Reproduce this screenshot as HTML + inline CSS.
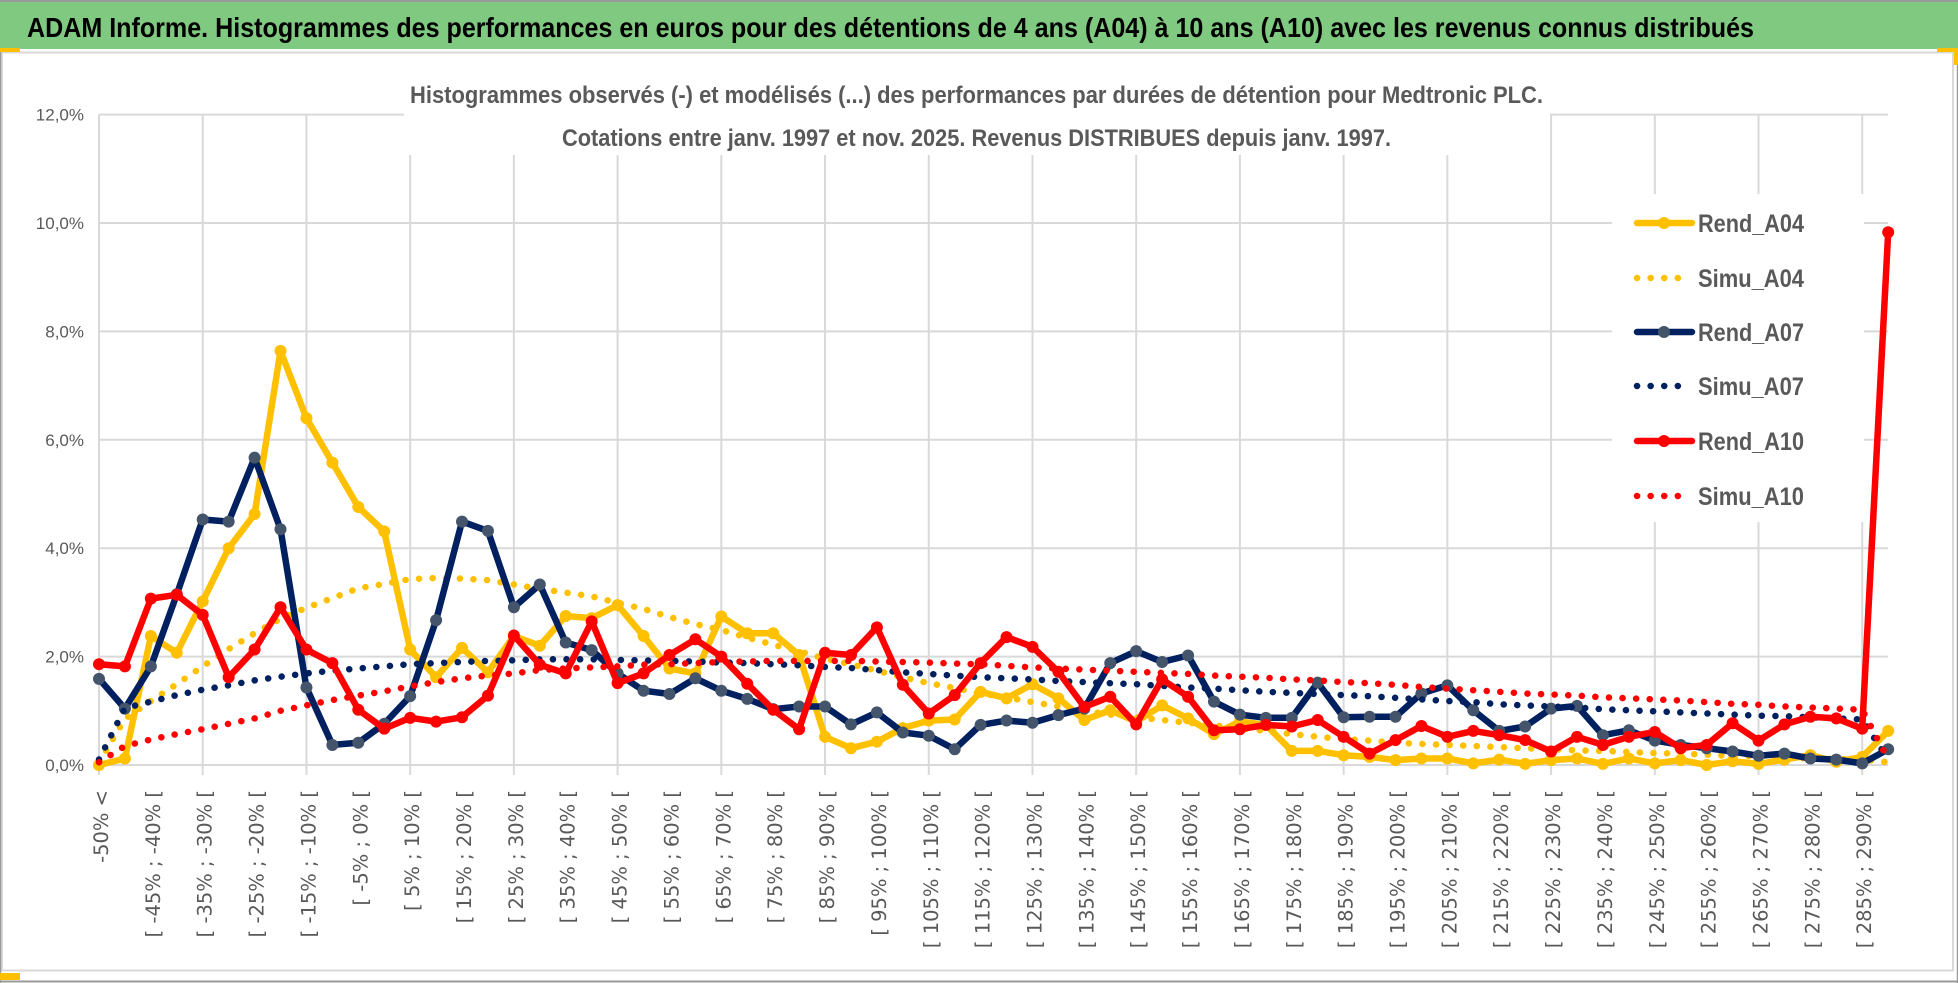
<!DOCTYPE html>
<html><head><meta charset="utf-8"><style>
html,body{margin:0;padding:0;background:#fff;}
svg{display:block;}
</style></head><body>
<svg id="chart" width="1958" height="983" viewBox="0 0 1958 983" xmlns="http://www.w3.org/2000/svg">
<rect x="0" y="0" width="1958" height="983" fill="#fff"/>
<rect x="0" y="0" width="1958" height="49" fill="#80c980"/>
<line x1="0" y1="1" x2="1958" y2="1" stroke="#9a9a9a" stroke-width="2"/>
<text x="27" y="37" font-family="Liberation Sans, sans-serif" font-weight="bold" font-size="28" fill="#000" textLength="1727" lengthAdjust="spacingAndGlyphs">ADAM Informe. Histogrammes des performances en euros pour des détentions de 4 ans (A04) à 10 ans (A10) avec les revenus connus distribués</text>
<rect x="2" y="52.5" width="1951" height="918" fill="none" stroke="#d9d9d9" stroke-width="2"/>
<line x1="0" y1="981.5" x2="1958" y2="981.5" stroke="#9a9a9a" stroke-width="2"/>
<line x1="0.5" y1="49" x2="0.5" y2="983" stroke="#9a9a9a" stroke-width="1.5"/>
<line x1="1957.5" y1="49" x2="1957.5" y2="983" stroke="#9a9a9a" stroke-width="1.5"/>
<rect x="0" y="48" width="20" height="4" fill="#ffc000"/>
<rect x="1937" y="48" width="21" height="4" fill="#ffc000"/>
<rect x="1954" y="48" width="4" height="17" fill="#ffc000"/>
<rect x="0" y="973" width="20" height="7" fill="#ffc000"/>
<g id="grid"></g>
<g id="series"></g>
<g id="axes"></g>
<rect x="404" y="70" width="1146" height="85" fill="#fff"/>
<text x="410" y="103" font-family="Liberation Sans, sans-serif" font-weight="bold" font-size="24" fill="#595959" textLength="1133" lengthAdjust="spacingAndGlyphs">Histogrammes observés (-) et modélisés (...) des performances par durées de détention pour Medtronic PLC.</text>
<text x="562" y="146" font-family="Liberation Sans, sans-serif" font-weight="bold" font-size="24" fill="#595959" textLength="829" lengthAdjust="spacingAndGlyphs">Cotations entre janv. 1997 et nov. 2025. Revenus DISTRIBUES depuis janv. 1997.</text>
<g id="legend"></g>
</svg>
<script>
const categories = [];
categories.push('-50% <');
for (let a = -50; a < 295; a += 5) { categories.push('[ ' + a + '% ; ' + (a + 5) + '% ['); }
const yTicks = [0, 2, 4, 6, 8, 10, 12];
const yTickLabels = ['0,0%', '2,0%', '4,0%', '6,0%', '8,0%', '10,0%', '12,0%'];
const seriesNames = ['Rend_A04', 'Simu_A04', 'Rend_A07', 'Simu_A07', 'Rend_A10', 'Simu_A10'];
const rendA04 = [0.0,0.12,2.38,2.07,3.02,4.0,4.63,7.64,6.4,5.58,4.76,4.31,2.13,1.62,2.16,1.71,2.38,2.2,2.75,2.71,2.95,2.38,1.78,1.69,2.74,2.43,2.43,2.03,0.52,0.31,0.43,0.68,0.82,0.84,1.35,1.23,1.49,1.23,0.83,1.01,0.8,1.1,0.86,0.57,0.8,0.74,0.26,0.26,0.18,0.15,0.09,0.12,0.12,0.03,0.1,0.02,0.09,0.12,0.02,0.12,0.03,0.09,0.0,0.07,0.02,0.1,0.18,0.06,0.15,0.63];
const simuA04 = [0.05,0.85,1.18,1.49,1.82,2.14,2.43,2.7,2.9,3.08,3.26,3.34,3.43,3.45,3.44,3.41,3.33,3.25,3.18,3.11,2.99,2.88,2.73,2.6,2.49,2.35,2.22,2.1,1.96,1.86,1.74,1.62,1.51,1.42,1.32,1.25,1.16,1.08,1.0,0.93,0.88,0.83,0.78,0.73,0.68,0.63,0.57,0.52,0.48,0.45,0.41,0.39,0.37,0.35,0.33,0.31,0.29,0.27,0.26,0.24,0.22,0.21,0.19,0.17,0.16,0.14,0.12,0.11,0.1,0.05];
const rendA07 = [1.59,1.04,1.82,3.15,4.53,4.49,5.67,4.35,1.43,0.37,0.41,0.76,1.27,2.67,4.49,4.32,2.91,3.33,2.26,2.12,1.69,1.37,1.31,1.6,1.37,1.22,1.03,1.08,1.08,0.75,0.97,0.6,0.54,0.29,0.74,0.82,0.78,0.92,1.04,1.88,2.1,1.9,2.02,1.17,0.93,0.87,0.87,1.52,0.88,0.89,0.89,1.32,1.47,1.01,0.63,0.71,1.04,1.09,0.55,0.64,0.45,0.37,0.31,0.25,0.17,0.21,0.12,0.1,0.03,0.29];
const simuA07 = [0.1,1.05,1.17,1.29,1.39,1.47,1.56,1.63,1.69,1.74,1.78,1.82,1.86,1.88,1.9,1.92,1.93,1.95,1.95,1.95,1.94,1.93,1.92,1.91,1.89,1.88,1.86,1.84,1.81,1.79,1.75,1.71,1.68,1.65,1.62,1.6,1.58,1.55,1.53,1.51,1.49,1.46,1.43,1.41,1.38,1.35,1.33,1.31,1.29,1.27,1.24,1.21,1.18,1.16,1.12,1.1,1.08,1.06,1.03,1.01,0.99,0.97,0.95,0.93,0.91,0.9,0.88,0.86,0.84,0.1];
const rendA10 = [1.86,1.82,3.07,3.14,2.77,1.62,2.13,2.91,2.13,1.88,1.02,0.67,0.87,0.8,0.88,1.28,2.39,1.85,1.69,2.65,1.51,1.69,2.03,2.32,2.0,1.5,1.02,0.66,2.07,2.03,2.54,1.48,0.95,1.29,1.88,2.36,2.18,1.72,1.07,1.26,0.75,1.58,1.26,0.64,0.66,0.74,0.71,0.83,0.52,0.21,0.46,0.72,0.52,0.63,0.55,0.46,0.25,0.52,0.37,0.52,0.61,0.31,0.37,0.77,0.45,0.75,0.89,0.86,0.67,9.83];
const simuA10 = [0.05,0.35,0.47,0.57,0.66,0.76,0.86,1.0,1.1,1.2,1.28,1.36,1.45,1.53,1.6,1.65,1.69,1.75,1.78,1.8,1.82,1.85,1.86,1.88,1.9,1.91,1.92,1.92,1.92,1.92,1.91,1.9,1.89,1.87,1.86,1.83,1.8,1.78,1.76,1.74,1.72,1.7,1.68,1.65,1.63,1.61,1.58,1.56,1.53,1.51,1.48,1.44,1.41,1.38,1.35,1.32,1.3,1.28,1.25,1.23,1.21,1.19,1.16,1.13,1.11,1.08,1.06,1.04,1.02,0.1];

const NS = 'http://www.w3.org/2000/svg';
const X0 = 99, XSTEP = 25.93, Y0 = 765, YPER = 54.2;
function xScale(i) { return X0 + XSTEP * i; }
function yScale(v) { return Y0 - YPER * v; }
function mk(tag, attrs, parent) {
  const e = document.createElementNS(NS, tag);
  for (const k in attrs) e.setAttribute(k, attrs[k]);
  parent.appendChild(e);
  return e;
}
const grid = document.getElementById('grid');
const axes = document.getElementById('axes');
const seriesG = document.getElementById('series');
const legend = document.getElementById('legend');
const xEnd = xScale(categories.length - 1);

yTicks.forEach((t, k) => {
  const l = mk('line', {x1: X0, x2: xEnd, y1: yScale(t), y2: yScale(t), stroke: '#d9d9d9', 'stroke-width': 2}, grid);
  
  
  const tx = mk('text', {x: 84, y: yScale(t) + 6, 'text-anchor': 'end', 'font-family': 'Liberation Sans, sans-serif', 'font-size': 17, fill: '#595959'}, axes);
  
  
  tx.textContent = yTickLabels[k];
});
for (let i = 0; i < categories.length; i += 4) {
  const l = mk('line', {x1: xScale(i), x2: xScale(i), y1: yScale(12), y2: 775, stroke: '#d9d9d9', 'stroke-width': 2}, grid);
  
  
}
for (let i = 0; i < categories.length; i += 2) {
  const x = xScale(i) + 9, y = 790;
  const tx = mk('text', {x: x, y: y, transform: 'rotate(-90 ' + x + ' ' + y + ')', 'text-anchor': 'end', 'font-family': 'DejaVu Sans, sans-serif', 'font-size': 19.5, fill: '#595959'}, axes);
  
  
  tx.textContent = categories[i];
}

const styles = [
  {data: rendA04, color: '#ffc000', marker: '#ffc000', dotted: false},
  {data: simuA04, color: '#ffc000', dotted: true},
  {data: rendA07, color: '#002060', marker: '#44546a', dotted: false},
  {data: simuA07, color: '#002060', dotted: true},
  {data: rendA10, color: '#ff0000', marker: '#ff0000', dotted: false},
  {data: simuA10, color: '#ff0000', dotted: true}
];
styles.forEach((s, si) => {
  const pts = s.data.map((v, i) => xScale(i).toFixed(1) + ',' + yScale(v).toFixed(1)).join(' ');
  const g = mk('g', {}, seriesG);
  
  
  const attrs = {points: pts, fill: 'none', stroke: s.color, 'stroke-linejoin': 'round', 'stroke-linecap': 'round'};
  if (s.dotted) { attrs['stroke-width'] = 6.5; attrs['stroke-dasharray'] = '0.1 13.5'; }
  else { attrs['stroke-width'] = 6.5; }
  const pl = mk('polyline', attrs, g);
  
  
  if (!s.dotted) {
    s.data.forEach((v, i) => {
      const c = mk('circle', {cx: xScale(i), cy: yScale(v), r: 6, fill: s.marker}, g);
      
      
    });
  }
  const ly = [223, 278, 332, 386, 441, 496][si];
  const lg = mk('g', {}, legend);
  
  
  if (s.dotted) {
    mk('line', {x1: 1637, x2: 1690, y1: ly, y2: ly, stroke: s.color, 'stroke-width': 6.5, 'stroke-linecap': 'round', 'stroke-dasharray': '0.1 13.5'}, lg);
  } else {
    mk('line', {x1: 1637, x2: 1692, y1: ly, y2: ly, stroke: s.color, 'stroke-width': 6.5, 'stroke-linecap': 'round'}, lg);
    mk('circle', {cx: 1664, cy: ly, r: 6, fill: s.marker}, lg);
  }
  const lt = mk('text', {x: 1698, y: ly + 9, 'font-family': 'Liberation Sans, sans-serif', 'font-weight': 'bold', 'font-size': 25, fill: '#595959', textLength: 106, lengthAdjust: 'spacingAndGlyphs'}, lg);
  
  
  lt.textContent = seriesNames[si];
});
const bg = document.createElementNS(NS, 'rect');
bg.setAttribute('x', 1612); bg.setAttribute('y', 194); bg.setAttribute('width', 252); bg.setAttribute('height', 328); bg.setAttribute('fill', '#fff');


legend.insertBefore(bg, legend.firstChild);
</script>
</body></html>
